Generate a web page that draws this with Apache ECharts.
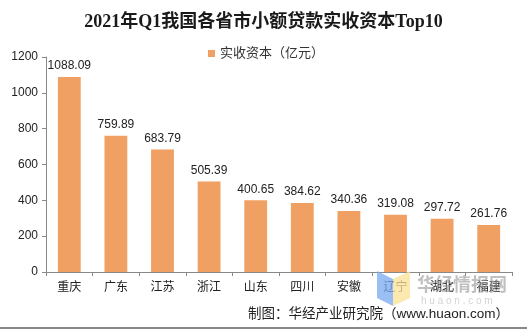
<!DOCTYPE html>
<html>
<head>
<meta charset="utf-8">
<script src="https://cdn.jsdelivr.net/npm/echarts@6/dist/echarts.min.js"></script>
<style>
  html, body { margin: 0; padding: 0; background: #fff; }
  #chart { width: 527px; height: 329px; }
</style>
</head>
<body>
<div id="chart"></div>
<script>
// Paid-in capital of micro-loan companies, top 10 provinces, 2021 Q1 (100 million yuan)
const provinces = ['重庆', '广东', '江苏', '浙江', '山东', '四川', '安徽', '辽宁', '湖北', '福建'];
const paidInCapital = [1088.09, 759.89, 683.79, 505.39, 400.65, 384.62, 340.36, 319.08, 297.72, 261.76];
const yTicks = [0, 200, 400, 600, 800, 1000, 1200];

const sansFont = '"Liberation Sans", Arial, "Noto Sans CJK SC", sans-serif';
const chart = echarts.init(document.getElementById('chart'), null, { renderer: 'canvas' });

chart.setOption({
  animation: false,
  backgroundColor: '#ffffff',
  title: {
    text: '2021年Q1我国各省市小额贷款实收资本Top10',
    left: 'center',
    top: 8,
    textStyle: {
      fontFamily: '"Liberation Serif", "Noto Sans CJK SC", serif',
      fontWeight: 'bold',
      fontSize: 18,
      color: '#1a1a1a'
    }
  },
  legend: {
    data: ['实收资本（亿元）'],
    left: 203,
    top: 42,
    itemWidth: 7,
    itemHeight: 7,
    itemGap: 4,
    icon: 'rect',
    textStyle: { fontFamily: sansFont, fontSize: 13, color: '#333' }
  },
  grid: { left: 46, right: 15, top: 57, bottom: 57 },
  xAxis: {
    type: 'category',
    data: provinces,
    axisLine: { lineStyle: { color: '#888', width: 1 } },
    axisTick: { show: true, alignWithLabel: false, length: 4, lineStyle: { color: '#888' } },
    axisLabel: { fontFamily: sansFont, fontSize: 12, color: '#222', margin: 10 }
  },
  yAxis: {
    type: 'value',
    min: yTicks[0],
    max: yTicks[yTicks.length - 1],
    interval: 200,
    axisLine: { show: true, lineStyle: { color: '#888', width: 1 } },
    axisTick: { show: true, inside: false, length: 4, lineStyle: { color: '#888' } },
    splitLine: { show: false },
    axisLabel: { fontFamily: sansFont, fontSize: 12, color: '#222', margin: 8,
                 formatter: v => String(v) }
  },
  series: [{
    name: '实收资本（亿元）',
    type: 'bar',
    data: paidInCapital,
    barWidth: '49%',
    itemStyle: { color: '#F0A062' },
    label: {
      show: true,
      position: 'top',
      distance: 5,
      fontFamily: sansFont,
      fontSize: 12,
      color: '#222',
      formatter: p => p.value.toFixed(2)
    }
  }],
  graphic: [
    // site watermark: book logo
    { type: 'polygon', silent: true, z: 100,
      shape: { points: [[377, 271], [393, 279], [393, 306], [377, 298]] },
      style: { fill: 'rgba(120,170,240,0.75)' } },
    { type: 'polygon', silent: true, z: 100,
      shape: { points: [[393, 279], [410, 271], [410, 298], [393, 306]] },
      style: { fill: 'rgba(250,225,150,0.75)' } },
    { type: 'text', silent: true, z: 100, left: 417, top: 275,
      style: { text: '华经情报网', fontFamily: '"Noto Sans CJK SC", sans-serif', fontWeight: 'bold',
               fontSize: 18, fill: 'rgba(150,150,150,0.6)' } },
    { type: 'text', silent: true, z: 100, left: 421, top: 296,
      style: { text: 'h u a o n . c o m', fontFamily: sansFont,
               fontSize: 10, fill: 'rgba(170,170,170,0.5)' } },
    // source credit
    { type: 'text', right: 18, top: 308,
      style: { text: '制图：华经产业研究院（www.huaon.com）', fontFamily: sansFont,
               fontSize: 13.5, fill: '#222' } },
    // bottom rule
    { type: 'rect', shape: { x: 0, y: 327, width: 527, height: 2 },
      style: { fill: '#888' } }
  ]
});
</script>
</body>
</html>
